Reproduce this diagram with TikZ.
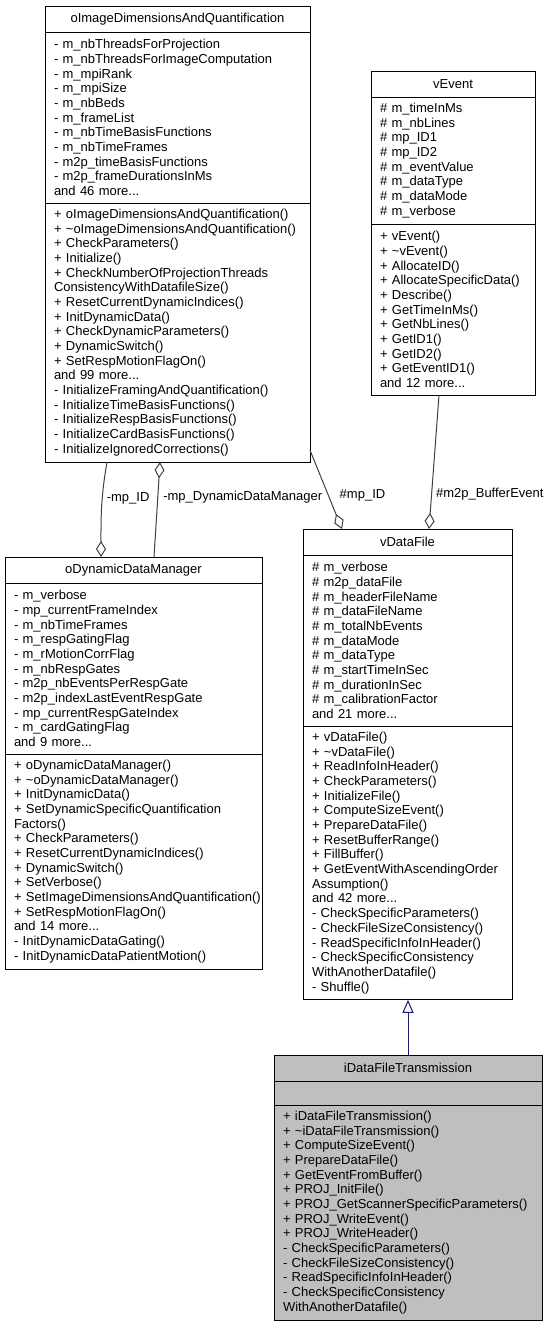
\documentclass[tikz,border=0pt]{standalone}
\usepackage{fontspec}
\setmainfont{Liberation Sans}
\usepackage{tikz}
\usetikzlibrary{arrows.meta,positioning}
\definecolor{edgegrey}{HTML}{404040}
\definecolor{inhblue}{HTML}{191970}
\definecolor{classgrey}{HTML}{BFBFBF}
\hyphenpenalty=10000
\exhyphenpenalty=10000
\tikzset{every node/.style={font=\fontsize{13pt}{14.67pt}\selectfont}}
\tikzset{
    classtitle/.style={draw, line width=1pt, outer sep=0pt, inner xsep=9pt, inner ysep=2pt,
        text width=#1pt-18pt, align=center, minimum height=26pt},
    classpart/.style={draw, line width=1pt, outer sep=0pt, inner xsep=9pt, inner ysep=2pt,
        text width=#1pt-18pt, align=left},
    nlines/.style={minimum height=#1*14.67pt+9.7pt},
    aggr/.style={edgegrey, line width=1pt, -{Diamond[open,length=16pt,width=10pt]}},
    inherit/.style={inhblue, line width=1pt, -{Triangle[open,length=13pt,width=11pt]}},
    lbl/.style={anchor=west, inner sep=0pt, text=black}
}

\begin{document}
\begin{tikzpicture}[x=1pt,y=1pt]
    \useasboundingbox (0,0) rectangle (549,-1328);
    % oImageDimensionsAndQuantification
    \node[classtitle=265, anchor=north west] (img) at (45,-6) {oImageDimensionsAndQuantification};
    \node[classpart=265, nlines=11] (img attr) [below=0pt of img] {
        -~m\_nbThreadsForProjection\\
        -~m\_nbThreadsForImageComputation\\
        -~m\_mpiRank\\
        -~m\_mpiSize\\
        -~m\_nbBeds\\
        -~m\_frameList\\
        -~m\_nbTimeBasisFunctions\\
        -~m\_nbTimeFrames\\
        -~m2p\_timeBasisFunctions\\
        -~m2p\_frameDurationsInMs\\
        and 46 more...};
    \node[classpart=265, nlines=17] (img ops) [below=0pt of img attr] {
        +~oImageDimensionsAndQuantification()\\
        +~\textasciitilde oImageDimensionsAndQuantification()\\
        +~CheckParameters()\\
        +~Initialize()\\
        +~CheckNumberOfProjectionThreads\\
        ConsistencyWithDatafileSize()\\
        +~ResetCurrentDynamicIndices()\\
        +~InitDynamicData()\\
        +~CheckDynamicParameters()\\
        +~DynamicSwitch()\\
        +~SetRespMotionFlagOn()\\
        and 99 more...\\
        -~InitializeFramingAndQuantification()\\
        -~InitializeTimeBasisFunctions()\\
        -~InitializeRespBasisFunctions()\\
        -~InitializeCardBasisFunctions()\\
        -~InitializeIgnoredCorrections()};
    % vEvent
    \node[classtitle=164, anchor=north west] (evt) at (371,-71) {vEvent};
    \node[classpart=164, nlines=8] (evt attr) [below=0pt of evt] {
        \#~m\_timeInMs\\
        \#~m\_nbLines\\
        \#~mp\_ID1\\
        \#~mp\_ID2\\
        \#~m\_eventValue\\
        \#~m\_dataType\\
        \#~m\_dataMode\\
        \#~m\_verbose};
    \node[classpart=164, nlines=11] (evt ops) [below=0pt of evt attr] {
        +~vEvent()\\
        +~\textasciitilde vEvent()\\
        +~AllocateID()\\
        +~AllocateSpecificData()\\
        +~Describe()\\
        +~GetTimeInMs()\\
        +~GetNbLines()\\
        +~GetID1()\\
        +~GetID2()\\
        +~GetEventID1()\\
        and 12 more...};
    % vDataFile
    \node[classtitle=209, anchor=north west] (dfile) at (303,-529) {vDataFile};
    \node[classpart=209, nlines=11] (dfile attr) [below=0pt of dfile] {
        \#~m\_verbose\\
        \#~m2p\_dataFile\\
        \#~m\_headerFileName\\
        \#~m\_dataFileName\\
        \#~m\_totalNbEvents\\
        \#~m\_dataMode\\
        \#~m\_dataType\\
        \#~m\_startTimeInSec\\
        \#~m\_durationInSec\\
        \#~m\_calibrationFactor\\
        and 21 more...};
    \node[classpart=209, nlines=18] (dfile ops) [below=0pt of dfile attr] {
        +~vDataFile()\\
        +~\textasciitilde vDataFile()\\
        +~ReadInfoInHeader()\\
        +~CheckParameters()\\
        +~InitializeFile()\\
        +~ComputeSizeEvent()\\
        +~PrepareDataFile()\\
        +~ResetBufferRange()\\
        +~FillBuffer()\\
        +~GetEventWithAscendingOrder\\
        Assumption()\\
        and 42 more...\\
        -~CheckSpecificParameters()\\
        -~CheckFileSizeConsistency()\\
        -~ReadSpecificInfoInHeader()\\
        -~CheckSpecificConsistency\\
        WithAnotherDatafile()\\
        -~Shuffle()};
    % oDynamicDataManager
    \node[classtitle=257, anchor=north west] (dyn) at (5,-557) {oDynamicDataManager};
    \node[classpart=257, nlines=11] (dyn attr) [below=0pt of dyn] {
        -~m\_verbose\\
        -~mp\_currentFrameIndex\\
        -~m\_nbTimeFrames\\
        -~m\_respGatingFlag\\
        -~m\_rMotionCorrFlag\\
        -~m\_nbRespGates\\
        -~m2p\_nbEventsPerRespGate\\
        -~m2p\_indexLastEventRespGate\\
        -~mp\_currentRespGateIndex\\
        -~m\_cardGatingFlag\\
        and 9 more...};
    \node[classpart=257, nlines=14] (dyn ops) [below=0pt of dyn attr] {
        +~oDynamicDataManager()\\
        +~\textasciitilde oDynamicDataManager()\\
        +~InitDynamicData()\\
        +~SetDynamicSpecificQuantification\\
        Factors()\\
        +~CheckParameters()\\
        +~ResetCurrentDynamicIndices()\\
        +~DynamicSwitch()\\
        +~SetVerbose()\\
        +~\mbox{SetImageDimensionsAndQuantification()}\\
        +~SetRespMotionFlagOn()\\
        and 14 more...\\
        -~InitDynamicDataGating()\\
        -~InitDynamicDataPatientMotion()};
    % iDataFileTransmission
    \node[classtitle=268, fill=classgrey, anchor=north west] (tx) at (274,-1055) {iDataFileTransmission};
    \node[classpart=268, fill=classgrey, minimum height=24pt] (tx attr) [below=0pt of tx] {};
    \node[classpart=268, fill=classgrey, nlines=14] (tx ops) [below=0pt of tx attr] {
        +~iDataFileTransmission()\\
        +~\textasciitilde iDataFileTransmission()\\
        +~ComputeSizeEvent()\\
        +~PrepareDataFile()\\
        +~GetEventFromBuffer()\\
        +~PROJ\_InitFile()\\
        +~PROJ\_GetScannerSpecificParameters()\\
        +~PROJ\_WriteEvent()\\
        +~PROJ\_WriteHeader()\\
        -~CheckSpecificParameters()\\
        -~CheckFileSizeConsistency()\\
        -~ReadSpecificInfoInHeader()\\
        -~CheckSpecificConsistency\\
        WithAnotherDatafile()};
    % relations
    \path[aggr]
        ([xshift=62pt]img ops.south west) edge[out=-100,in=90] node[lbl,pos=0.37,xshift=4pt] (lbl mpid) {-mp\_ID} ([xshift=96pt]dyn.north west)
        ([xshift=149pt]dyn.north west) edge node[lbl,pos=0.63,xshift=5pt] (lbl ddm) {-mp\_DynamicDataManager} ([xshift=115pt]img ops.south west)
        ([yshift=12pt]img ops.south east) edge node[lbl,pos=0.57,xshift=11pt] (lbl fileid) {\#mp\_ID} ([xshift=39pt]dfile.north west)
        ([xshift=68pt]evt ops.south west) edge node[lbl,pos=0.74,xshift=4pt] (lbl buf) {\#m2p\_BufferEvent} ([xshift=126pt]dfile.north west)
    ;
    \path[inherit] (tx.north) edge (tx.north |- dfile ops.south);
\end{tikzpicture}
\end{document}
